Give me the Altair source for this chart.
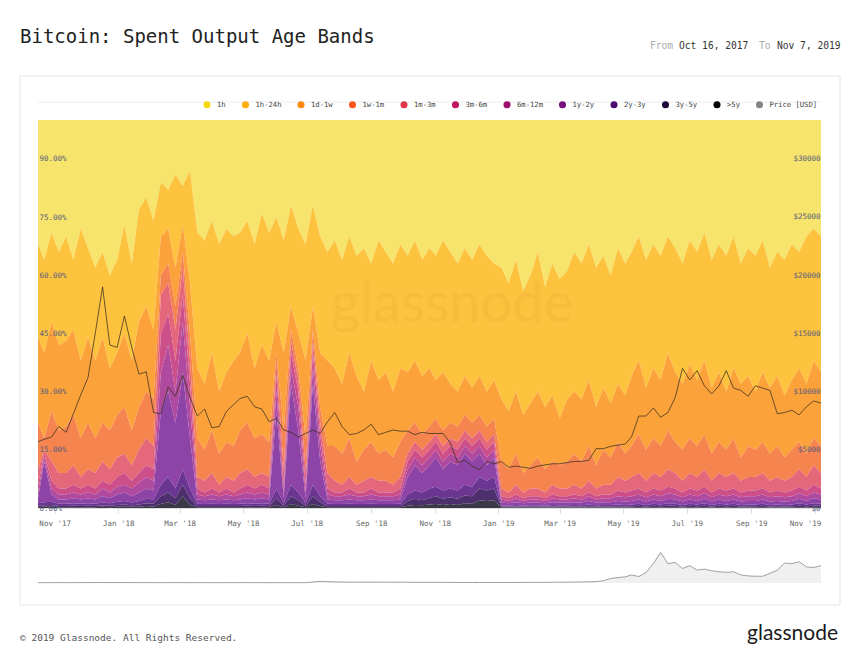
import altair as alt
import pandas as pd

# ---------------- data (weekly readings, % of spent outputs, cumulative edges) ----------------
bands = ["1h", "1h-24h", "1d-1w", "1w-1m", "1m-3m", "3m-6m", "6m-12m",
         "1y-2y", "2y-3y", "3y-5y", ">5y"]
legend_labels = bands + ["Price [USD]"]
legend_colors = ["#f5d80f", "#fbae0e", "#fb8912", "#f7561c", "#e0384a", "#c0155f",
                 "#990e6f", "#760f80", "#4b0b6e", "#1d0a3b", "#000000", "#858585"]
area_colors = ["#f6e46c", "#fdc33f", "#fca23b", "#f6844f", "#e4687a", "#cc4f8a",
               "#b04a9e", "#8e43a7", "#6b3592", "#4c2f6c", "#3b3848"]

# lower edge of each band (cumulative share from the bottom), %
edge_1h = [68, 64, 71, 66, 70, 64, 72, 67, 62, 66,
           60, 64, 73, 63, 77, 80, 74, 84, 82, 86,
           83, 87, 71, 69, 74, 68, 72, 70, 71, 74,
           68, 76, 71, 75, 69, 78, 72, 68, 78, 70,
           66, 69, 64, 70, 65, 67, 63, 69, 66, 63,
           68, 65, 69, 64, 67, 65, 69, 66, 63, 67,
           64, 68, 65, 63, 62, 58, 64, 56, 60, 66,
           57, 63, 59, 61, 66, 63, 68, 62, 65, 60,
           67, 63, 66, 70, 64, 68, 65, 70, 67, 63,
           69, 66, 71, 64, 68, 65, 70, 63, 67, 65,
           69, 62, 66, 64, 68, 66, 70, 72, 70]
edge_1h24h = [44, 40, 48, 42, 43, 46, 38, 44, 38, 44,
              36, 40, 45, 38, 48, 52, 46, 70, 72, 62,
              73, 58, 36, 32, 40, 30, 35, 38, 40, 45,
              36, 42, 38, 48, 40, 52, 45, 38, 52, 40,
              38, 36, 32, 40, 34, 30, 38, 33, 35, 30,
              36, 35, 38, 34, 36, 33, 35, 32, 30, 34,
              31, 34, 30, 33, 28, 25, 30, 24, 27, 30,
              26, 29, 23, 28, 30, 28, 33, 26, 31, 27,
              32, 29, 34, 38, 31, 36, 33, 40, 35, 32,
              37, 33, 38, 31, 35, 30, 36, 32, 34, 30,
              35, 31, 34, 29, 33, 36, 32, 38, 35]
edge_1d1w = [22, 18, 25, 20, 21, 24, 18, 22, 18, 22,
             20, 24, 26, 20, 26, 30, 28, 60, 63, 52,
             66, 45, 18, 15, 20, 14, 17, 16, 20, 22,
             18, 19, 17, 40, 20, 46, 36, 18, 46, 26,
             16, 16, 14, 18, 12, 15, 17, 14, 15, 13,
             17, 20, 22, 19, 21, 23, 20, 22, 21, 24,
             22, 24, 21, 23, 12, 10, 14, 9, 11, 13,
             10, 12, 11, 12, 14, 12, 16, 11, 15, 13,
             17, 14, 16, 19, 15, 18, 16, 20, 17, 15,
             18, 16, 19, 14, 17, 15, 18, 13, 16, 15,
             17, 14, 16, 13, 15, 17, 14, 18, 16]
edge_1w1m = [10, 15, 12, 9, 9, 11, 8, 10, 9, 12,
             10, 13, 14, 11, 15, 18, 16, 55, 58, 46,
             62, 38, 8, 7, 9, 6, 8, 7, 9, 10,
             8, 9, 8, 37, 10, 43, 33, 10, 43, 22,
             9, 7, 6, 8, 6, 7, 8, 7, 7, 6,
             8, 14, 17, 15, 17, 19, 16, 18, 17, 20,
             18, 20, 17, 19, 5, 4, 6, 4, 5, 5,
             4, 6, 5, 5, 6, 5, 7, 5, 6, 6,
             8, 7, 8, 9, 7, 9, 8, 10, 9, 7,
             9, 8, 10, 7, 9, 8, 9, 7, 8, 8,
             9, 7, 8, 7, 8, 10, 8, 11, 9]
edge_1m3m = [6, 14, 7, 5, 5, 6, 5, 6, 5, 7,
             6, 8, 9, 7, 9, 11, 10, 45, 50, 38,
             55, 32, 5, 4, 5, 4, 5, 4, 5, 6,
             5, 6, 5, 34, 6, 40, 30, 6, 40, 19,
             5, 4, 4, 5, 4, 4, 5, 4, 4, 4,
             5, 12, 15, 13, 15, 17, 14, 16, 15, 18,
             16, 18, 15, 17, 3, 2.5, 3.5, 2.5, 3, 3,
             2.5, 3.5, 3, 3, 3.5, 3, 4, 3, 3.5, 3.5,
             4.5, 4, 4.5, 5, 4, 5, 4.5, 5.5, 5, 4,
             5, 4.5, 5.5, 4, 5, 4.5, 5, 4, 4.5, 4.5,
             5, 4, 4.5, 4, 4.5, 5.5, 4.5, 6, 5]
edge_3m6m = [4, 13, 5, 3.5, 3.5, 4, 3.5, 4, 3.5, 5,
             4, 5.5, 6, 5, 6.5, 8, 7, 35, 42, 30,
             48, 26, 3.5, 3, 3.5, 3, 3.5, 3, 3.5, 4,
             3.5, 4, 3.5, 30, 4, 36, 26, 4, 36, 16,
             3.5, 3, 3, 3.5, 3, 3, 3.5, 3, 3, 3,
             3.5, 10, 13, 11, 13, 15, 12, 14, 13, 16,
             14, 16, 13, 15, 2.2, 1.8, 2.5, 1.8, 2.2, 2.2,
             1.8, 2.5, 2.2, 2.2, 2.5, 2.2, 3, 2.2, 2.5, 2.5,
             3, 2.8, 3, 3.5, 2.8, 3.5, 3, 3.8, 3.5, 2.8,
             3.5, 3, 3.8, 2.8, 3.5, 3, 3.5, 2.8, 3, 3,
             3.5, 2.8, 3, 2.8, 3, 3.8, 3, 4, 3.5]
edge_6m12m = [2.5, 12, 3.5, 2.2, 2.2, 2.5, 2.2, 2.5, 2.2, 3,
              2.5, 3.5, 4, 3, 4, 5, 4.5, 25, 30, 22,
              35, 18, 2.2, 2, 2.2, 2, 2.2, 2, 2.2, 2.5,
              2.2, 2.5, 2.2, 25, 2.5, 32, 20, 2.5, 32, 12,
              2.2, 2, 2, 2.2, 2, 2, 2.2, 2, 2, 2,
              2.2, 8, 11, 9, 11, 13, 10, 12, 11, 14,
              12, 14, 11, 13, 1.4, 1.2, 1.5, 1.2, 1.4, 1.4,
              1.2, 1.5, 1.4, 1.4, 1.5, 1.4, 1.8, 1.4, 1.5, 1.5,
              1.8, 1.7, 1.8, 2.2, 1.7, 2.2, 1.8, 2.4, 2.2, 1.7,
              2.2, 1.8, 2.4, 1.7, 2.2, 1.8, 2.2, 1.7, 1.8, 1.8,
              2.2, 1.7, 1.8, 1.7, 1.8, 2.4, 1.8, 2.5, 2.2]
edge_1y2y = [1.2, 1.5, 1.6, 1.1, 1.1, 1.2, 1.1, 1.2, 1.1, 1.4,
             1.2, 1.6, 1.8, 1.4, 1.8, 2.4, 2.2, 6, 8, 5,
             10, 5, 1.1, 1, 1.1, 1, 1.1, 1, 1.1, 1.2,
             1.1, 1.2, 1.1, 5, 1.2, 6, 4, 1.2, 6, 3,
             1.1, 1, 1, 1.1, 1, 1, 1.1, 1, 1, 1,
             1.1, 3.5, 4.5, 4, 5, 5.5, 4.5, 5, 4.5, 6,
             5.5, 8, 7, 8, 0.7, 0.6, 0.8, 0.6, 0.7, 0.7,
             0.6, 0.8, 0.7, 0.7, 0.8, 0.7, 0.9, 0.7, 0.8, 0.8,
             0.9, 0.8, 0.9, 1.1, 0.8, 1.1, 0.9, 1.2, 1.1, 0.8,
             1.1, 0.9, 1.2, 0.8, 1.1, 0.9, 1.1, 0.8, 0.9, 0.9,
             1.1, 0.8, 0.9, 0.8, 0.9, 1.2, 0.9, 1.2, 1.1]
edge_2y3y = [0.6, 0.7, 0.8, 0.5, 0.5, 0.6, 0.5, 0.6, 0.5, 0.7,
             0.6, 0.8, 0.9, 0.7, 0.9, 1.2, 1.1, 3, 4, 2.5,
             6, 2.5, 0.5, 0.5, 0.5, 0.5, 0.5, 0.5, 0.5, 0.6,
             0.5, 0.6, 0.5, 2.5, 0.6, 3, 2, 0.6, 3, 1.5,
             0.5, 0.5, 0.5, 0.5, 0.5, 0.5, 0.5, 0.5, 0.5, 0.5,
             0.5, 1.8, 2.4, 2, 2.6, 3, 2.4, 2.8, 2.4, 3.2,
             3, 5, 4.5, 5, 0.35, 0.3, 0.4, 0.3, 0.35, 0.35,
             0.3, 0.4, 0.35, 0.35, 0.4, 0.35, 0.45, 0.35, 0.4, 0.4,
             0.45, 0.4, 0.45, 0.55, 0.4, 0.55, 0.45, 0.6, 0.55, 0.4,
             0.55, 0.45, 0.6, 0.4, 0.55, 0.45, 0.55, 0.4, 0.45, 0.45,
             0.55, 0.4, 0.45, 0.4, 0.45, 0.6, 0.45, 0.6, 0.55]
edge_3y5y = [0.2, 0.3, 0.3, 0.2, 0.2, 0.2, 0.2, 0.2, 0.2, 0.3,
             0.2, 0.3, 0.3, 0.3, 0.3, 0.5, 0.4, 1, 1.5, 0.8,
             3, 0.8, 0.2, 0.2, 0.2, 0.2, 0.2, 0.2, 0.2, 0.2,
             0.2, 0.2, 0.2, 0.8, 0.2, 1, 0.6, 0.2, 1, 0.5,
             0.2, 0.2, 0.2, 0.2, 0.2, 0.2, 0.2, 0.2, 0.2, 0.2,
             0.2, 0.6, 0.8, 0.7, 0.9, 1, 0.8, 1, 0.8, 1.2,
             1.1, 2, 1.8, 2, 0.1, 0.1, 0.15, 0.1, 0.1, 0.1,
             0.1, 0.1, 0.1, 0.1, 0.1, 0.1, 0.15, 0.1, 0.1, 0.1,
             0.15, 0.15, 0.15, 0.2, 0.15, 0.2, 0.15, 0.2, 0.2, 0.15,
             0.2, 0.15, 0.2, 0.15, 0.2, 0.15, 0.2, 0.15, 0.15, 0.15,
             0.2, 0.15, 0.15, 0.15, 0.15, 0.2, 0.15, 0.2, 0.2]

price_usd = [5700, 5900, 6100, 7000, 6500, 8100, 9700, 11200, 15000, 19000,
             14000, 13800, 16500, 13800, 11500, 11700, 8200, 8100, 10400, 9600,
             11400, 9500, 7900, 8500, 6900, 7000, 8300, 8900, 9400, 9600,
             8700, 8500, 7400, 7700, 6700, 6500, 6100, 6400, 6700, 6400,
             7400, 8200, 7000, 6300, 6400, 6700, 7200, 6300, 6500, 6700,
             6600, 6600, 6300, 6500, 6400, 6400, 6400, 5600, 3900, 4100,
             3600, 3300, 4000, 3800, 4000, 3500, 3600, 3500, 3400, 3600,
             3700, 3800, 3800, 3900, 4000, 4000, 4100, 5100, 5100, 5300,
             5400, 5500, 6100, 7900, 7900, 8600, 7800, 8200, 9500, 12000,
             11000, 11800, 10500, 9800, 10500, 11800, 10300, 10100, 9600, 10500,
             10300, 10100, 8100, 8200, 8400, 8000, 8700, 9200, 9000]

navigator = [1.0, 1.0, 1.1, 1.2, 1.1, 1.2, 1.3, 1.3, 1.4, 1.5,
             1.3, 1.3, 1.4, 1.3, 1.2, 1.2, 1.1, 1.1, 1.2, 1.2,
             1.2, 1.1, 1.1, 1.1, 1.0, 1.0, 1.1, 1.1, 1.2, 1.2,
             1.1, 1.1, 1.0, 1.1, 1.0, 1.0, 1.0, 1.1, 3.0, 5.0,
             4.2, 3.5, 3.0, 2.8, 2.7, 2.8, 2.9, 2.7, 2.6, 2.5,
             2.5, 2.3, 2.2, 2.1, 2.0, 2.0, 1.9, 1.8, 1.6, 1.5,
             1.5, 1.5, 1.5, 1.6, 1.6, 1.6, 1.7, 1.7, 1.8, 1.9,
             2.0, 2.2, 2.4, 2.7, 3.0, 3.2, 3.5, 4.5, 7, 14,
             17, 19, 25, 20, 33, 60, 95, 60, 64, 45,
             54, 40, 43, 38, 35, 33, 35, 25, 22, 21,
             21, 30, 40, 62, 60, 66, 50, 48, 54]

# ---------------- tables ----------------
n = len(edge_1h)
dates = pd.date_range("2017-10-16", "2019-11-07", periods=n).strftime("%Y-%m-%d")
full_share = [100] * n
zero_share = [0] * n
edges = [full_share, edge_1h, edge_1h24h, edge_1d1w, edge_1w1m, edge_1m3m,
         edge_3m6m, edge_6m12m, edge_1y2y, edge_2y3y, edge_3y5y, zero_share]
for e in edges + [price_usd, navigator]:
    assert len(e) == n, len(e)

rows = []
for k, b in enumerate(bands):
    for j in range(n):
        rows.append({"date": dates[j], "band": b, "hi": edges[k][j], "lo": edges[k + 1][j]})
bands_df = pd.DataFrame(rows)
price_df = pd.DataFrame({"date": dates, "price": price_usd})
nav_df = pd.DataFrame({"date": dates, "nav": navigator})
legend_df = pd.DataFrame({"label": legend_labels})
one = pd.DataFrame({"k": [0]})

MONO = "DejaVu Sans Mono"
W, H = 783, 388

x_dom = [alt.DateTime(year=2017, month=10, date=16, utc=True),
         alt.DateTime(year=2019, month=11, date=7, utc=True)]
x_ticks = [alt.DateTime(year=y, month=m, date=1, utc=True)
           for (y, m) in [(2017, 11), (2018, 1), (2018, 3), (2018, 5), (2018, 7),
                          (2018, 9), (2018, 11), (2019, 1), (2019, 3), (2019, 5),
                          (2019, 7), (2019, 9), (2019, 11)]]
x_scale = alt.Scale(type="utc", domain=x_dom, nice=False)

areas = alt.Chart(bands_df).mark_area(interpolate="linear").encode(
    x=alt.X("date:T", scale=x_scale, title=None,
            axis=alt.Axis(values=x_ticks, format="%b '%y", grid=False, domain=True,
                          domainColor="#dddddd", ticks=True, tickColor="#dddddd", tickSize=5,
                          labelPadding=6, labelFont=MONO, labelFontSize=7.5,
                          labelColor="#666666", labelFlush=10, labelFlushOffset=6, zindex=1)),
    y=alt.Y("hi:Q", scale=alt.Scale(domain=[0, 100], nice=False), title=None,
            axis=alt.Axis(orient="left", values=[0, 15, 30, 45, 60, 75, 90],
                          labelExpr="format(datum.value, '.2f') + '%'",
                          ticks=False, domain=False, grid=False, labelAlign="left",
                          labelBaseline="middle", labelPadding=-1, labelFont=MONO,
                          labelFontSize=7.5, labelColor="#565b7d", zindex=2)),
    y2="lo:Q",
    fill=alt.Fill("band:N", scale=alt.Scale(domain=bands, range=area_colors), legend=None),
)

price = alt.Chart(price_df).mark_line(color="#3a3020", strokeWidth=0.9, opacity=0.85).encode(
    x=alt.X("date:T", scale=x_scale),
    y=alt.Y("price:Q", scale=alt.Scale(domain=[0, 33333], nice=False), title=None,
            axis=alt.Axis(orient="right", values=[0, 5000, 10000, 15000, 20000, 25000, 30000],
                          labelExpr="'$' + datum.value", ticks=False, domain=False,
                          grid=False, labelAlign="right", labelBaseline="middle",
                          labelPadding=-1, labelFont=MONO, labelFontSize=7.5,
                          labelColor="#565b7d", zindex=2)),
)

legend_layer = alt.Chart(legend_df).mark_circle().encode(
    color=alt.Color("label:N", scale=alt.Scale(domain=legend_labels, range=legend_colors),
                    legend=alt.Legend(title=None, orient="none", legendX=165, legendY=-19.5,
                                      direction="horizontal", columns=12, symbolType="circle",
                                      symbolSize=50, symbolStrokeWidth=0, symbolOpacity=1,
                                      labelFont=MONO, labelFontSize=7.2, labelColor="#444444",
                                      labelOffset=6, columnPadding=15.5, padding=0)),
    x=alt.value(0), y=alt.value(0),
).transform_filter("datum.label == 'none'")


def txt(s, x, y, size, color, font=MONO, align="left", weight="normal", opacity=1.0):
    return alt.Chart(one).mark_text(text=s, align=align, baseline="alphabetic", font=font,
                                    fontSize=size, color=color, fontWeight=weight,
                                    opacity=opacity).encode(x=alt.value(x), y=alt.value(y))


bg = alt.Chart(one).mark_rect(fill="white").encode(
    x=alt.value(-30), x2=alt.value(812), y=alt.value(-112), y2=alt.value(536))
card = alt.Chart(one).mark_rect(fill="white", fillOpacity=0, stroke="#e6e6e6", strokeWidth=1).encode(
    x=alt.value(-18), x2=alt.value(802), y=alt.value(-44), y2=alt.value(485))
topline = alt.Chart(one).mark_rule(color="#ececec", strokeWidth=1).encode(
    x=alt.value(0), x2=alt.value(W), y=alt.value(-18))

watermark = txt("glassnode", 414, 202, 56, "#000000", font="Lato", align="center", opacity=0.025)
title = txt("Bitcoin: Spent Output Age Bands", -18, -77, 19, "#222222")
d1 = txt("From", 612, -71, 9.6, "#aaaaaa")
d2 = txt("Oct 16, 2017", 641, -71, 9.6, "#333333")
d3 = txt("To", 721, -71, 9.6, "#aaaaaa")
d4 = txt("Nov 7, 2019", 739, -71, 9.6, "#333333")
footer = txt("\u00a9 2019 Glassnode. All Rights Reserved.", -18, 521, 9.5, "#555555")
logo = txt("glassnode", 800, 520, 21, "#1a1a1a", font="Lato", align="right")

main = alt.layer(bg, card, topline, areas, watermark, price, legend_layer,
                 title, d1, d2, d3, d4, footer, logo).resolve_scale(
    y="independent").properties(width=W, height=H)

nav_base = alt.Chart(nav_df).encode(
    x=alt.X("date:T", scale=x_scale, axis=None),
    y=alt.Y("nav:Q", scale=alt.Scale(domain=[0, 118], nice=False), axis=None),
)
nav = (nav_base.mark_area(color="#f0f0f0") +
       nav_base.mark_line(color="#a0a0a0", strokeWidth=1)).properties(width=W, height=38)

chart = alt.vconcat(main, nav, spacing=37, bounds="flush").properties(
    padding=0, background="white").configure_view(stroke=None)

chart.save("out.html", embed_options={"renderer": "svg", "actions": False})
